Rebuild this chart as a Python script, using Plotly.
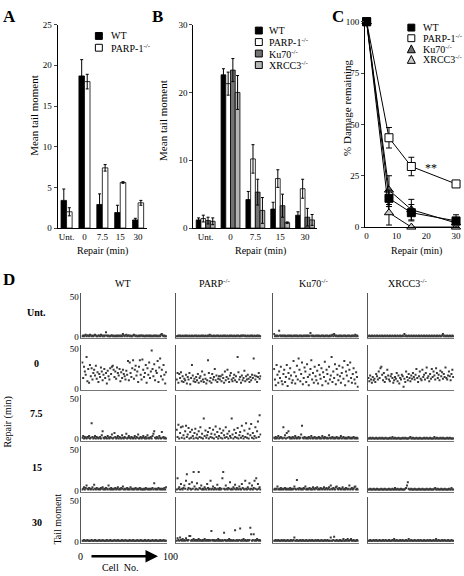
import plotly.graph_objects as go
import numpy as np

W, H = 464, 576
def fx(p): return p / W
def fy(p): return 1 - p / H

FONT = "Liberation Serif"

# ---------------- Panel A / B data ----------------
categories = ["Unt.", "0", "7.5", "15", "30"]
a_wt = [3.4, 18.7, 2.9, 1.9, 1.0]
a_wt_err = [1.4, 2.0, 1.3, 0.9, 0.2]
a_parp = [2.0, 18.0, 7.4, 5.6, 3.1]
a_parp_err = [0.5, 0.9, 0.4, 0.1, 0.3]

b_wt = [1.2, 22.6, 4.2, 2.8, 1.9]
b_wt_err = [0.3, 0.9, 1.2, 1.0, 0.5]
b_parp = [1.4, 21.3, 10.2, 7.3, 5.8]
b_parp_err = [0.5, 1.7, 2.1, 1.3, 1.4]
b_ku = [1.1, 23.3, 5.3, 3.3, 1.6]
b_ku_err = [0.5, 1.7, 1.9, 1.7, 1.3]
b_xr = [1.0, 20.0, 2.6, 0.8, 1.2]
b_xr_err = [0.5, 2.5, 1.9, 0.1, 0.8]

# ---------------- Panel C data ----------------
c_time = [0, 7.5, 15, 30]
c_wt = [100, 14, 7, 3]
c_wt_err = [0, 4, 4, 3]
c_parp = [100, 43.5, 29.5, 21]
c_parp_err = [0, 5, 4.5, 1]
c_ku = [100, 18, 8.5, 2]
c_ku_err = [0, 7, 5, 2]
c_xr = [100, 7, 0, 0]
c_xr_err = [0, 6, 0, 0]

# ---------------- Panel D data (tail moment per cell) ----------------
genotypes = ["WT", "PARP<sup>-/-</sup>", "Ku70<sup>-/-</sup>", "XRCC3<sup>-/-</sup>"]
repair_rows = ["Unt.", "0", "7.5", "15", "30"]

wt_unt = [1,2,1,2,3,1,2,2,1,3,2,1,2,1,2,3,2,1,1,2,2,1,3,2,1,2,1,2,6,2,1,2,1,1,2,2,1,2,1,1,2,1,2,1,2,1,2,1,4,2,1,2,3,1,2,2,1,2,1,1,2,3,2,1,2,1,1,2,1,2,2,1,2,1,1,2,1,2,1,2,1,2,1,1,2,1,2,1,2,1,1,2,1,3,4,2,1,2,1,1]
parp_unt = [1,1,2,1,2,1,1,2,1,1,2,1,2,1,1,2,1,1,2,1,1,2,1,2,1,1,2,1,1,2,1,2,1,1,2,1,1,2,1,3,1,2,1,1,2,1,1,2,1,2,1,1,2,1,1,2,1,2,1,1,2,1,1,2,1,2,1,1,2,1,1,2,1,2,1,1,2,1,2,2,1,2,1,1,2,1,1,2,1,2,1,1,2,1,1,2,1,2,1,1]
ku_unt = [4,1,2,1,2,1,8,2,1,2,1,2,1,2,1,1,2,1,2,1,2,1,1,2,1,2,1,2,1,1,2,1,2,1,1,2,1,2,1,2,1,2,1,5,2,1,2,1,1,2,1,2,1,2,1,1,2,1,2,1,1,2,1,2,1,1,2,1,2,3,1,4,2,1,2,1,1,2,1,2,1,1,2,1,2,1,1,2,1,2,1,1,2,1,2,1,3,1,2,1]
xr_unt = [1,2,1,1,2,1,1,2,1,1,2,1,1,2,1,1,2,1,1,2,1,1,2,1,1,2,1,1,2,1,1,2,1,1,2,1,1,2,1,1,2,1,4,1,2,1,1,2,1,1,2,1,1,2,1,1,2,1,1,2,1,1,2,1,1,2,1,1,2,1,1,2,1,1,2,1,1,2,1,1,2,1,1,2,1,1,2,4,1,2,1,1,2,1,1,2,1,1,2,1]

wt_0 = [33,14,28,22,18,40,10,25,8,30,16,26,12,20,24,17,29,13,21,9,19,15,27,22,11,18,25,14,20,7,23,16,12,26,19,28,29,24,15,22,13,27,20,17,25,10,21,14,24,19,16,12,23,18,35,11,33,20,15,26,36,13,24,29,17,22,9,28,36,18,12,37,24,15,20,30,8,26,18,33,14,22,48,25,16,31,11,23,20,35,9,27,38,16,24,12,30,18,7,21]
parp_0 = [12,20,8,19,14,21,10,16,9,13,11,18,7,15,12,20,6,14,30,17,10,13,9,15,11,19,8,14,16,10,22,12,9,18,13,7,11,36,20,10,14,8,19,12,15,25,11,17,9,13,16,12,16,10,18,14,8,22,11,15,24,13,9,17,20,12,10,14,18,11,16,9,40,21,12,15,8,17,11,14,23,10,16,12,18,13,9,15,11,18,14,38,17,12,16,9,15,20,13,16]
ku_0 = [25,12,5,30,18,8,22,14,28,10,6,19,24,9,15,30,4,20,13,26,17,8,11,35,21,7,16,29,12,38,24,10,19,33,6,14,27,22,9,31,15,5,18,25,36,12,20,8,28,16,11,23,7,30,18,13,26,5,21,15,34,10,24,19,7,28,12,17,40,9,22,14,31,6,25,18,11,29,16,8,20,27,13,35,5,22,17,30,10,24,33,14,8,19,26,12,7,21,15,3]
xr_0 = [14,10,17,12,8,15,11,13,9,19,16,12,22,14,26,28,18,11,20,9,15,13,24,17,12,10,16,19,14,8,11,15,13,20,10,17,7,14,12,18,16,3,13,9,22,15,11,19,14,10,17,13,20,15,12,18,25,14,9,16,22,13,11,24,15,18,12,20,27,14,16,10,19,13,25,15,22,17,12,26,20,14,18,11,23,16,21,13,19,15,27,14,12,17,22,16,11,19,24,15]

wt_75 = [2,4,1,3,2,1,3,2,4,1,2,20,3,1,2,4,1,3,2,1,2,3,1,5,10,2,1,3,2,1,4,2,1,3,2,6,1,2,8,3,1,2,4,1,3,2,1,5,2,1,3,2,7,1,2,4,2,1,3,2,1,2,4,1,3,2,6,1,2,3,1,2,4,2,1,3,1,5,2,1,2,3,1,4,7,10,2,1,3,2,1,4,2,1,9,2,3,1,2,1]
parp_75 = [12,3,18,1,8,15,2,16,5,1,10,17,3,6,14,1,9,2,12,4,1,8,13,2,6,1,10,3,15,2,7,1,26,4,11,2,5,9,1,14,3,7,2,12,1,6,16,3,9,1,4,13,2,8,1,11,5,2,15,3,7,1,10,4,2,26,6,1,12,3,8,2,14,1,5,9,2,17,4,1,11,3,20,2,7,1,13,5,19,2,8,1,4,15,2,10,22,3,30,6]
ku_75 = [2,1,3,1,2,4,1,2,3,2,1,15,2,5,1,8,2,10,3,1,2,1,3,2,1,4,2,1,2,3,1,2,6,17,2,1,3,2,1,2,1,3,2,1,4,2,1,2,3,1,2,1,2,3,1,2,1,4,2,1,3,2,1,2,1,5,2,1,2,3,1,2,1,2,3,1,2,1,2,4,1,2,3,1,2,1,2,1,3,2,1,2,1,2,3,1,2,1,2,1]
xr_75 = [1,1,2,1,1,2,1,1,1,2,1,1,1,2,1,1,2,1,1,1,2,1,1,1,1,2,1,1,3,1,1,2,1,1,1,2,1,1,1,1,2,1,1,2,1,1,1,1,2,3,1,1,2,1,1,1,2,1,1,1,2,1,1,1,1,2,1,1,2,1,1,1,2,1,1,1,1,3,1,1,2,1,1,1,2,1,1,2,1,1,1,1,2,1,1,2,1,1,1,1]

wt_15 = [1,2,4,1,3,6,2,1,3,2,1,2,4,1,7,2,1,3,2,1,2,1,3,2,4,1,2,1,3,2,1,6,2,1,3,1,2,1,2,3,1,2,4,1,2,1,3,2,5,1,2,1,2,3,1,2,1,4,2,1,2,1,2,3,1,2,1,2,3,1,2,1,1,2,1,3,2,1,2,1,2,1,2,3,1,9,2,1,2,1,3,2,1,2,1,2,1,3,1,4]
parp_15 = [1,15,2,4,1,8,2,1,3,6,2,12,20,1,3,8,2,1,10,2,23,5,1,2,9,1,23,3,2,6,1,2,1,4,2,1,8,3,1,2,12,1,2,5,1,3,2,1,7,2,1,3,1,2,15,23,2,1,6,2,1,3,2,10,1,2,1,4,2,7,1,3,2,1,5,2,1,8,3,2,1,12,2,1,4,2,9,1,2,6,1,3,12,2,15,1,8,2,4,1]
ku_15 = [1,2,1,2,5,1,2,1,3,1,2,1,2,3,1,2,1,2,1,3,1,2,1,2,5,2,1,13,2,1,3,2,1,2,1,3,2,5,1,2,1,2,3,1,2,1,4,2,1,3,2,4,1,2,1,3,2,1,2,4,1,2,3,1,2,4,1,6,2,1,3,2,1,4,5,2,1,3,2,1,2,4,1,2,1,3,2,1,2,6,1,2,3,1,2,4,5,1,2,1]
xr_15 = [1,1,2,1,1,1,2,1,1,1,2,1,1,1,1,2,1,1,1,2,1,1,1,1,2,1,1,1,2,1,1,3,1,1,2,1,1,1,2,1,1,1,1,2,3,6,10,2,1,1,2,1,1,1,2,1,1,1,1,2,1,1,1,2,1,1,1,1,2,1,1,1,2,1,1,1,1,2,3,1,1,2,1,1,1,2,1,1,1,2,1,1,1,1,2,1,1,3,1,1]

wt_30 = [1,1,2,1,1,1,2,1,1,1,1,2,1,1,1,2,1,1,1,1,2,1,1,1,2,1,1,1,1,2,1,1,1,2,1,1,1,1,2,1,1,1,2,1,1,1,1,2,1,1,1,2,1,1,1,1,2,1,1,1,2,1,1,1,1,2,1,1,1,2,1,1,1,1,2,1,1,1,2,1,1,1,1,2,1,1,1,2,1,1,1,1,2,1,1,1,2,1,1,1]
parp_30 = [1,4,2,1,5,2,1,3,1,2,1,4,2,1,2,7,7,1,2,1,3,1,2,1,2,1,3,1,2,1,1,2,1,3,1,2,1,2,1,2,1,13,2,1,2,1,1,2,1,3,1,2,1,1,2,1,11,2,1,1,2,1,3,1,2,1,1,2,1,14,1,2,1,1,2,16,1,2,1,3,1,2,1,1,2,1,2,17,9,1,2,9,1,2,1,3,2,1,2,1]
ku_30 = [1,1,2,1,1,2,1,1,1,2,1,1,2,1,1,1,2,1,1,1,2,1,1,2,5,1,1,2,1,1,1,2,1,1,2,1,1,1,2,1,1,1,2,1,1,2,1,1,1,2,1,1,2,1,1,1,2,1,1,1,2,1,1,2,1,1,1,5,1,1,2,6,1,1,2,1,1,1,2,1,1,1,3,1,1,2,1,3,1,1,2,3,1,1,2,1,1,1,2,1]
xr_30 = [1,1,2,1,1,1,2,1,1,2,1,1,1,2,1,1,1,2,1,1,2,1,1,1,2,1,1,1,2,1,3,1,1,2,1,1,1,2,1,1,2,1,1,1,2,1,1,3,1,1,2,1,1,1,2,1,1,1,2,1,1,2,1,1,1,2,1,1,1,2,1,1,2,1,1,1,2,1,1,3,1,1,2,1,1,1,2,1,1,2,1,1,1,2,1,1,1,2,1,1]

d_values = [
    [wt_unt, parp_unt, ku_unt, xr_unt],
    [wt_0, parp_0, ku_0, xr_0],
    [wt_75, parp_75, ku_75, xr_75],
    [wt_15, parp_15, ku_15, xr_15],
    [wt_30, parp_30, ku_30, xr_30],
]

# ---------------- Figure ----------------
fig = go.Figure()
layout = dict(
    width=W, height=H, margin=dict(l=0, r=0, t=0, b=0),
    paper_bgcolor="white", plot_bgcolor="white",
    font=dict(family=FONT, size=9, color="black"),
    showlegend=False, barmode="overlay", hovermode=False,
)
annotations = []
shapes = []

def ann(text, x, y, size=10, bold=False, angle=0, xanchor="center", yanchor="middle"):
    if bold:
        text = "<b>" + text + "</b>"
    annotations.append(dict(text=text, x=fx(x), y=fy(y), xref="paper", yref="paper",
                            showarrow=False, font=dict(family=FONT, size=size, color="black"),
                            textangle=angle, xanchor=xanchor, yanchor=yanchor))

def bar(xa, ya, y, err, color, offset, width):
    fig.add_trace(go.Bar(
        x=categories, y=y, xaxis=xa, yaxis=ya, offset=offset, width=width,
        marker=dict(color=color, line=dict(color="black", width=0.8)),
        error_y=dict(type="data", array=err, visible=True, color="black", thickness=1, width=1.5),
    ))

# Panel A
bar("x", "y", a_wt, a_wt_err, "black", -0.31, 0.31)
bar("x", "y", a_parp, a_parp_err, "white", 0.0, 0.31)
# Panel B
bw = 0.19
bar("x2", "y2", b_wt, b_wt_err, "black", -2 * bw, bw)
bar("x2", "y2", b_parp, b_parp_err, "white", -bw, bw)
bar("x2", "y2", b_ku, b_ku_err, "#727272", 0, bw)
bar("x2", "y2", b_xr, b_xr_err, "#b4b4b4", bw, bw)

axis_common = dict(showgrid=False, zeroline=False, showline=True, linecolor="black", linewidth=1,
                   tickfont=dict(family=FONT, size=9, color="black"))
y_dom = [fy(227), fy(20)]
layout["xaxis"] = dict(axis_common, domain=[fx(57), fx(147)], type="category",
                       categoryorder="array", categoryarray=categories, anchor="y", ticks="")
layout["yaxis"] = dict(axis_common, domain=y_dom, range=[0, 25], tickvals=[0, 5, 10, 15, 20, 25],
                       ticks="outside", ticklen=3, anchor="x")
layout["xaxis2"] = dict(axis_common, domain=[fx(193.5), fx(318.5)], type="category",
                        categoryorder="array", categoryarray=categories, anchor="y2", ticks="")
layout["yaxis2"] = dict(axis_common, domain=y_dom, range=[0, 30], tickvals=[0, 10, 20, 30],
                        ticks="outside", ticklen=3, anchor="x2")

# Panel C
def cline(y, err, symbol, color):
    fig.add_trace(go.Scatter(
        x=c_time, y=y, xaxis="x3", yaxis="y3", mode="lines+markers", cliponaxis=False,
        line=dict(color="black", width=1),
        marker=dict(symbol=symbol, size=8, color=color, line=dict(color="black", width=1)),
        error_y=dict(type="data", array=err, visible=True, color="black", thickness=1, width=3),
    ))
cline(c_parp, c_parp_err, "square", "white")
cline(c_ku, c_ku_err, "triangle-up", "#6e6e6e")
cline(c_xr, c_xr_err, "triangle-up", "#c8c8c8")
cline(c_wt, c_wt_err, "square", "black")
layout["xaxis3"] = dict(axis_common, domain=[fx(366.5), fx(461)], range=[-0.5, 31],
                        tickvals=[0, 10, 20, 30], ticks="", anchor="y3")
layout["yaxis3"] = dict(axis_common, domain=[fy(226), fy(17)], range=[0, 100],
                        tickvals=[0, 25, 50, 75, 100], ticks="outside", ticklen=3, anchor="x3")
annotations.append(dict(text="**", x=21.5, y=29, xref="x3", yref="y3", showarrow=False,
                        font=dict(family=FONT, size=12, color="black")))

# Panel D
col_x = [(81, 167), (176, 262), (274, 360), (369, 456)]
row_base = [338, 391, 442, 494, 546]
s = 41 / 50.0
ymin, ymax = -1.5, 55
for r in range(5):
    b = row_base[r]
    ydom = [fy(b - ymin * s), fy(b - ymax * s)]
    for c in range(4):
        k = 4 + r * 4 + c
        vals = d_values[r][c]
        cells = np.arange(1, len(vals) + 1)
        fig.add_trace(go.Scatter(
            x=cells, y=vals, xaxis=f"x{k}", yaxis=f"y{k}", mode="markers",
            marker=dict(symbol="square", size=2, color="#3a3a3a", line=dict(width=0)),
        ))
        layout[f"xaxis{k}"] = dict(showgrid=False, zeroline=False, showline=True, linecolor="#777777",
                                   linewidth=1, domain=[fx(col_x[c][0]), fx(col_x[c][1])],
                                   range=[0, 101], showticklabels=False, ticks="", anchor=f"y{k}")
        layout[f"yaxis{k}"] = dict(showgrid=False, zeroline=False, showline=True, linecolor="#555555",
                                   linewidth=1, domain=ydom, range=[ymin, ymax], tickvals=[0, 50],
                                   showticklabels=(c == 0), ticks="",
                                   tickfont=dict(family=FONT, size=9, color="black"), anchor=f"x{k}")

# ---------------- Text ----------------
ann("A", 9, 12, size=17, bold=True)
ann("B", 158, 12, size=17, bold=True)
ann("C", 339, 12, size=17, bold=True)
ann("D", 8, 279, size=17, bold=True)

ann("Mean tail moment", 33, 112, size=11, angle=-90)
ann("Mean tail moment", 163, 117, size=11, angle=-90)
ann("% Damage remaining", 348, 105, size=11, angle=-90)
ann("Repair (min)", 102, 250, size=10)
ann("Repair (min)", 261, 250, size=10)
ann("Repair (min)", 418, 250, size=10)

col_title_x = [123, 215, 315, 410]
for c in range(4):
    ann(genotypes[c], col_title_x[c], 283, size=10)
row_label_y = [313, 365, 416, 471, 527]
for r in range(5):
    ann(repair_rows[r], 36, row_label_y[r], size=10, bold=True)
ann("Repair (min)", 7, 424, size=10, angle=-90)
ann("Tail moment", 57, 523, size=10, angle=-90)
ann("0", 80, 561, size=10)
ann("100", 171, 561, size=10)
ann("Cell  No.", 120, 572, size=10)
annotations.append(dict(x=fx(158), y=fy(561), xref="paper", yref="paper", ax=-68, ay=0,
                        showarrow=True, arrowhead=2, arrowsize=1, arrowwidth=2.5,
                        arrowcolor="black", text=""))

# ---------------- Legends (drawn keys) ----------------
def rect(x0, y0, x1, y1, fill):
    shapes.append(dict(type="rect", xref="paper", yref="paper", x0=fx(x0), x1=fx(x1),
                       y0=fy(y1), y1=fy(y0), fillcolor=fill, line=dict(color="black", width=1)))

def tri(cx, cy, size, fill):
    h = size
    p = f"M {fx(cx - h/2)},{fy(cy + h/2)} L {fx(cx + h/2)},{fy(cy + h/2)} L {fx(cx)},{fy(cy - h/2)} Z"
    shapes.append(dict(type="path", xref="paper", yref="paper", path=p, fillcolor=fill,
                       line=dict(color="black", width=1)))

# A legend
rect(95, 28, 102, 35, "black"); ann("WT", 109, 31.5, size=10, xanchor="left")
rect(95, 40, 102, 47, "white"); ann("PARP-1<sup>-/-</sup>", 109, 43.5, size=10, xanchor="left")
# B legend
b_leg = [("WT", "black"), ("PARP-1<sup>-/-</sup>", "white"), ("Ku70<sup>-/-</sup>", "#727272"),
         ("XRCC3<sup>-/-</sup>", "#b4b4b4")]
for i, (t, col) in enumerate(b_leg):
    yy = 26 + i * 11.7
    rect(256, yy - 3.5, 263, yy + 3.5, col)
    ann(t, 268, yy, size=10, xanchor="left")
# C legend
c_leg = [("WT", "sq", "black"), ("PARP-1<sup>-/-</sup>", "sq", "white"),
         ("Ku70<sup>-/-</sup>", "tri", "#6e6e6e"), ("XRCC3<sup>-/-</sup>", "tri", "#c8c8c8")]
for i, (t, kind, col) in enumerate(c_leg):
    yy = 23 + i * 10.8
    if kind == "sq":
        rect(409.5, yy - 3.5, 416.5, yy + 3.5, col)
    else:
        tri(413, yy, 8, col)
    ann(t, 423, yy, size=10, xanchor="left")

layout["annotations"] = annotations
layout["shapes"] = shapes
fig.update_layout(**layout)
fig.write_html("out.html", config={"displayModeBar": False, "staticPlot": True},
               post_script="document.body.style.margin='0px';document.body.style.padding='0px';")
